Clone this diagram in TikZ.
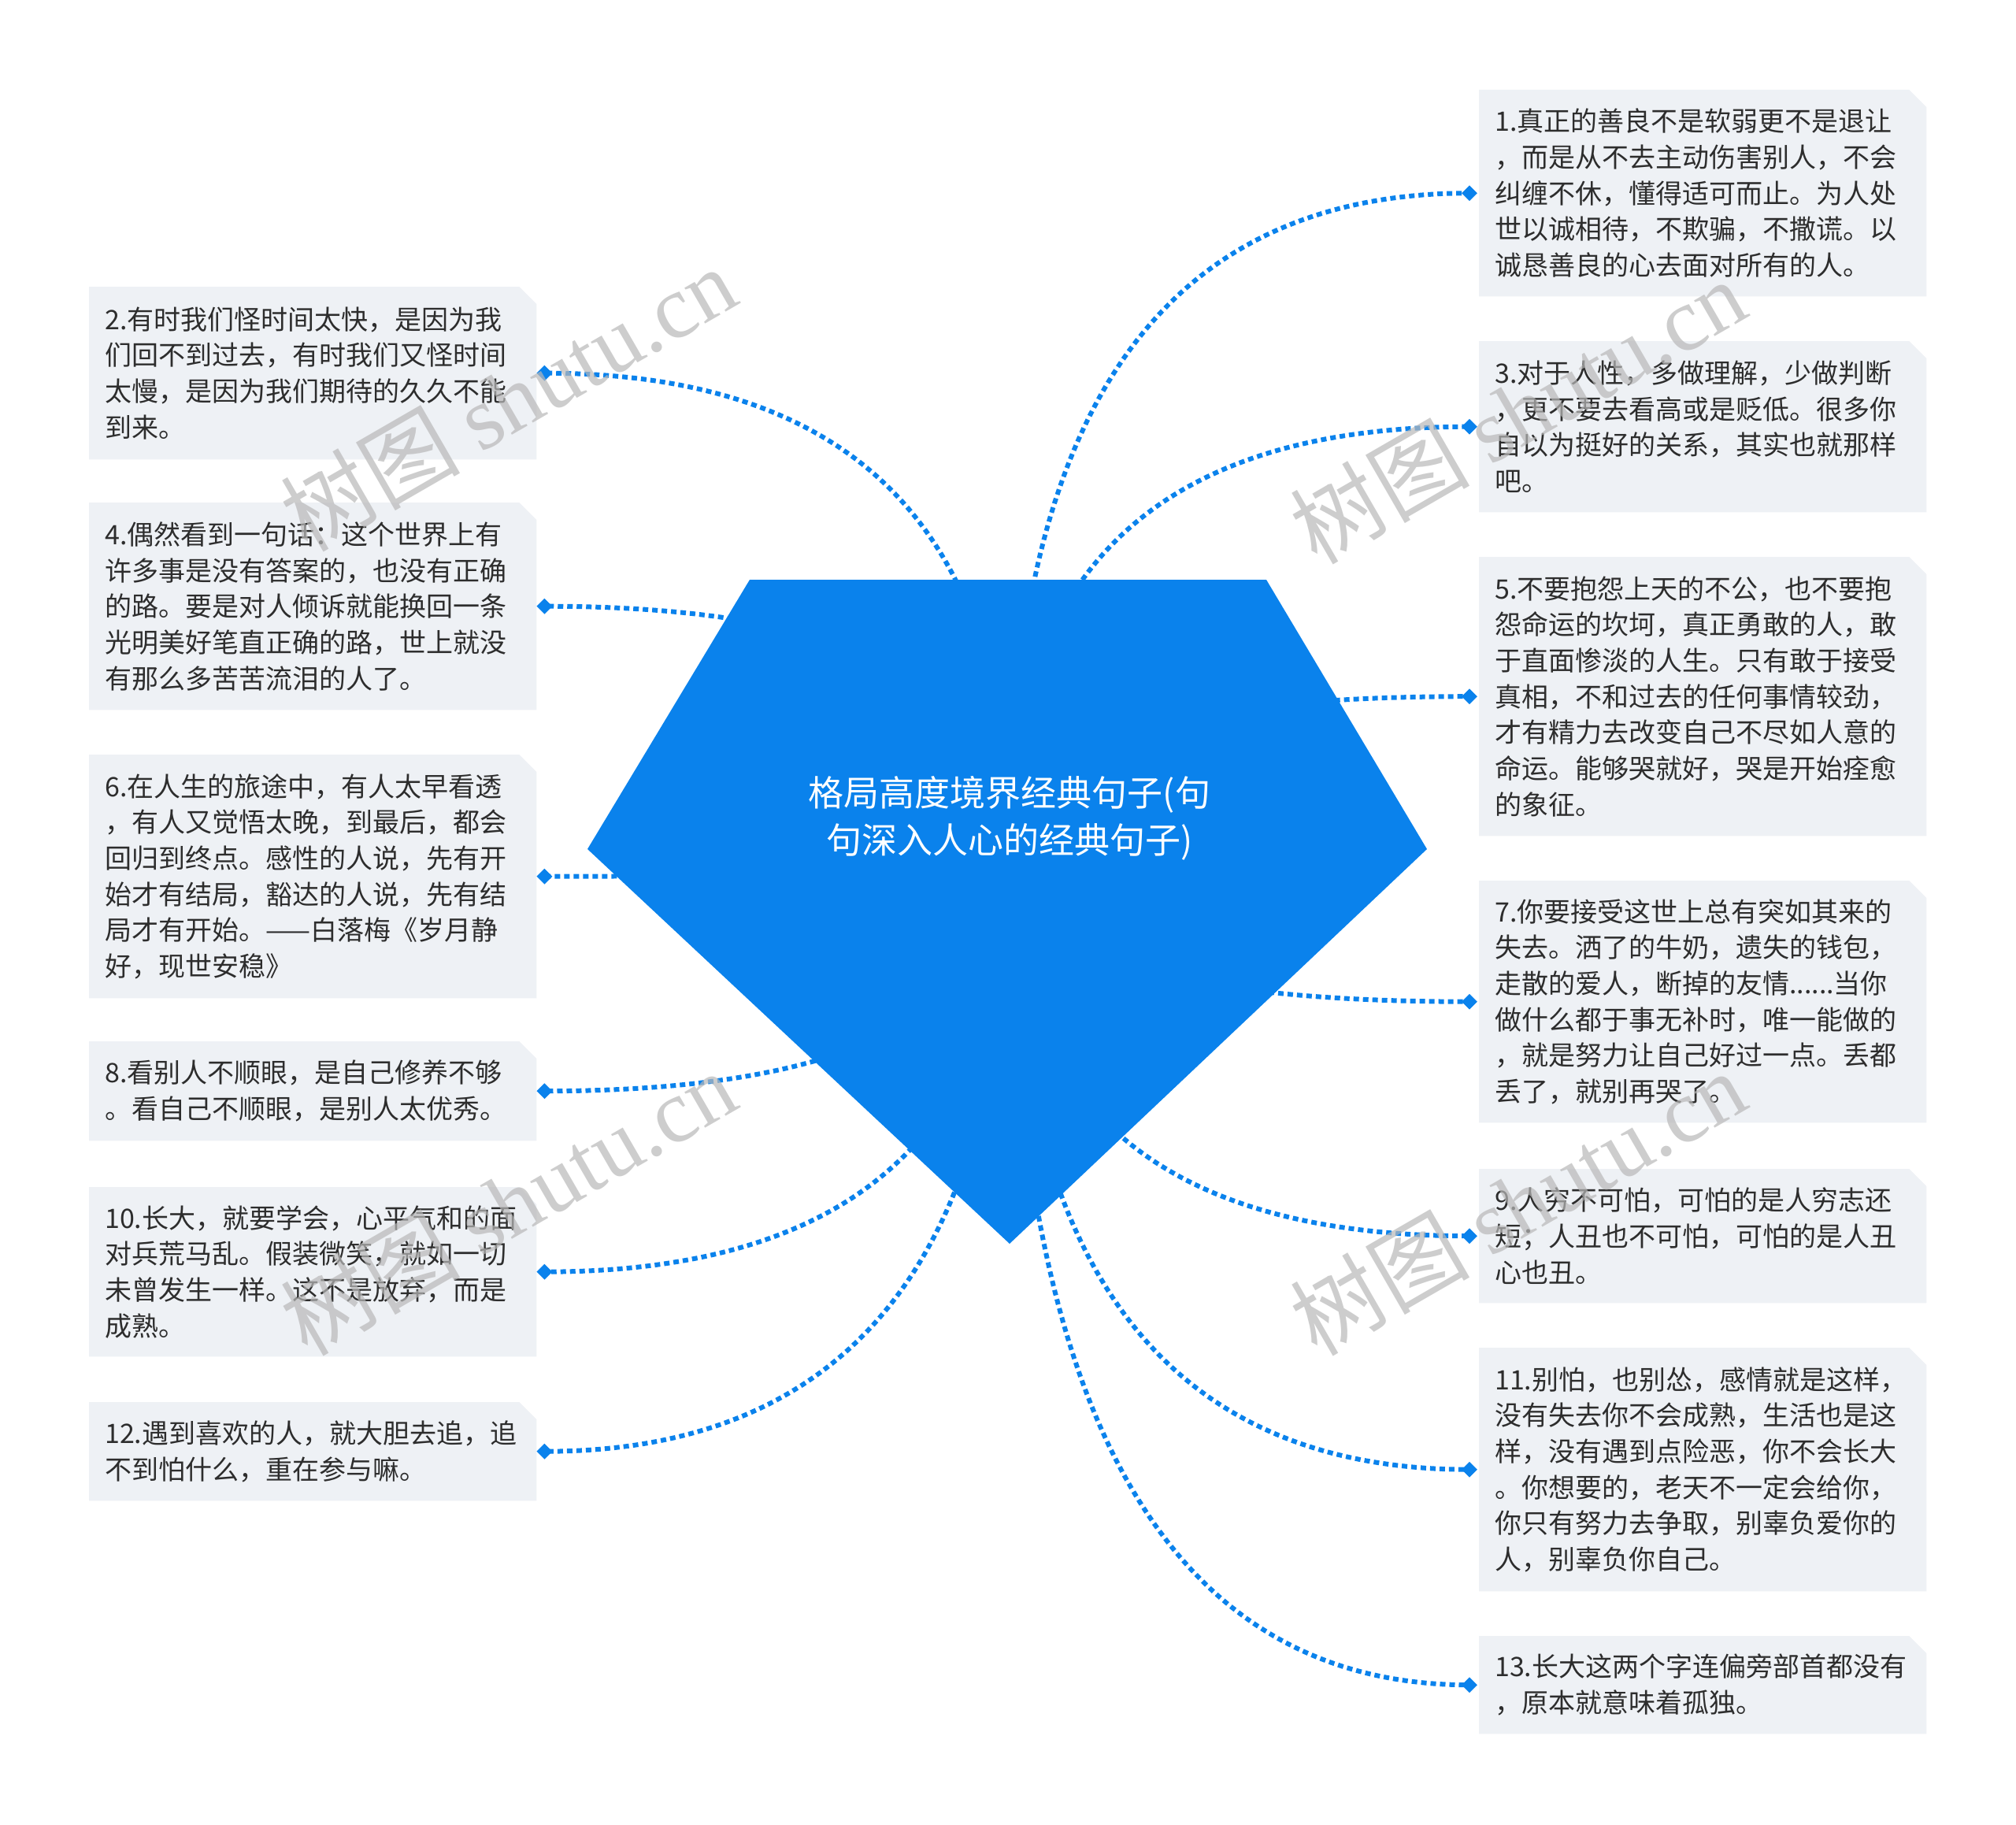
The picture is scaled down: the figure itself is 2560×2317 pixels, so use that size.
\documentclass[tikz,border=0pt]{standalone}
\usepackage{fontspec}
\setmainfont{Noto Sans CJK SC}
\newfontfamily\wmserif{Liberation Serif}
\usetikzlibrary{calc,shapes.geometric}
\definecolor{mainblue}{RGB}{10,130,236}
\definecolor{boxfill}{RGB}{238,241,245}
\definecolor{txt}{RGB}{45,45,45}
\pgfdeclarelayer{background}
\pgfsetlayers{background,main}
\begin{document}
\begin{tikzpicture}[x=1pt,y=-1pt,
  tbox/.style={rectangle, anchor=north west, minimum width=568pt, text width=528pt,
    inner xsep=20pt, inner ysep=0pt, align=left, font=\fontsize{34}{45.7}\selectfont, text=txt},
  conn/.style={mainblue, line width=6pt, dash pattern=on 7pt off 5pt},
  marker/.style={diamond, fill=mainblue, inner sep=0pt, minimum width=20pt, minimum height=20pt},
  wm/.style={rotate=30, text=black!28, opacity=0.7, font=\fontsize{114}{114}\selectfont}]
\useasboundingbox (0,0) rectangle (2560,2317);

% central shape
\coordinate (c) at (1282,1078);
\fill[mainblue] (952,736) -- (1608,736) -- (1812,1078) -- (1282,1579) -- (746,1078) -- cycle;
\node[font=\fontsize{45}{60}\selectfont, text=white, align=center] (title) at (1282,1039)
  {格局高度境界经典句子(句\\句深入人心的经典句子)};

% right boxes
\node[tbox, minimum height=262pt] (b1) at (1878,114) {1.真正的善良不是软弱更不是退让\\，而是从不去主动伤害别人，不会\\纠缠不休，懂得适可而止。为人处\\世以诚相待，不欺骗，不撒谎。以\\诚恳善良的心去面对所有的人。};
\node[tbox, minimum height=217pt] (b3) at (1878,433) {3.对于人性，多做理解，少做判断\\，更不要去看高或是贬低。很多你\\自以为挺好的关系，其实也就那样\\吧。};
\node[tbox, minimum height=354pt] (b5) at (1878,707) {5.不要抱怨上天的不公，也不要抱\\怨命运的坎坷，真正勇敢的人，敢\\于直面惨淡的人生。只有敢于接受\\真相，不和过去的任何事情较劲，\\才有精力去改变自己不尽如人意的\\命运。能够哭就好，哭是开始痊愈\\的象征。};
\node[tbox, minimum height=307pt] (b7) at (1878,1118) {7.你要接受这世上总有突如其来的\\失去。洒了的牛奶，遗失的钱包，\\走散的爱人，断掉的友情......当你\\做什么都于事无补时，唯一能做的\\，就是努力让自己好过一点。丢都\\丢了，就别再哭了。};
\node[tbox, minimum height=170pt] (b9) at (1878,1484) {9.人穷不可怕，可怕的是人穷志还\\短；人丑也不可怕，可怕的是人丑\\心也丑。};
\node[tbox, minimum height=309pt] (b11) at (1878,1711) {11.别怕，也别怂，感情就是这样，\\没有失去你不会成熟，生活也是这\\样，没有遇到点险恶，你不会长大\\。你想要的，老天不一定会给你，\\你只有努力去争取，别辜负爱你的\\人，别辜负你自己。};
\node[tbox, minimum height=124pt] (b13) at (1878,2077) {13.长大这两个字连偏旁部首都没有\\，原本就意味着孤独。};

% left boxes
\node[tbox, minimum height=219pt] (b2) at (113,364) {2.有时我们怪时间太快，是因为我\\们回不到过去，有时我们又怪时间\\太慢，是因为我们期待的久久不能\\到来。};
\node[tbox, minimum height=263pt] (b4) at (113,638) {4.偶然看到一句话：这个世界上有\\许多事是没有答案的，也没有正确\\的路。要是对人倾诉就能换回一条\\光明美好笔直正确的路，世上就没\\有那么多苦苦流泪的人了。};
\node[tbox, minimum height=309pt] (b6) at (113,958) {6.在人生的旅途中，有人太早看透\\，有人又觉悟太晚，到最后，都会\\回归到终点。感性的人说，先有开\\始才有结局，豁达的人说，先有结\\局才有开始。——白落梅《岁月静\\好，现世安稳》};
\node[tbox, minimum height=126pt] (b8) at (113,1322) {8.看别人不顺眼，是自己修养不够\\。看自己不顺眼，是别人太优秀。};
\node[tbox, minimum height=215pt] (b10) at (113,1507) {10.长大，就要学会，心平气和的面\\对兵荒马乱。假装微笑，就如一切\\未曾发生一样。这不是放弃，而是\\成熟。};
\node[tbox, minimum height=125pt] (b12) at (113,1780) {12.遇到喜欢的人，就大胆去追，追\\不到怕什么，重在参与嘛。};

\foreach \b in {b1,b3,b5,b7,b9,b11,b13} { \coordinate (m\b) at ([xshift=-12pt]\b.west); }
\foreach \b in {b2,b4,b6,b8,b10,b12} { \coordinate (m\b) at ([xshift=10pt]\b.east); }

\begin{pgfonlayer}{background}
\foreach \b in {b1,b2,b3,b4,b5,b6,b7,b8,b9,b10,b11,b12,b13} {
  \fill[boxfill] (\b.south west) -- (\b.north west) -- ([xshift=-22pt]\b.north east)
     -- ([yshift=-22pt]\b.north east) -- (\b.south east) -- cycle;
  \draw[conn] (c) .. controls ($(c)!2/3!(c |- m\b)$) and ($(m\b)!2/3!(c |- m\b)$) .. (m\b);
}
\end{pgfonlayer}

\foreach \b in {b1,b2,b3,b4,b5,b6,b7,b8,b9,b10,b11,b12,b13} { \node[marker] (k\b) at (m\b) {}; }

% watermarks
\node[wm] (w1) at (645,506) {树图 {\wmserif shutu.cn}};
\node[wm] (w2) at (1927,522) {树图 {\wmserif shutu.cn}};
\node[wm] (w3) at (645,1527) {树图 {\wmserif shutu.cn}};
\node[wm] (w4) at (1927,1527) {树图 {\wmserif shutu.cn}};
\end{tikzpicture}
\end{document}
